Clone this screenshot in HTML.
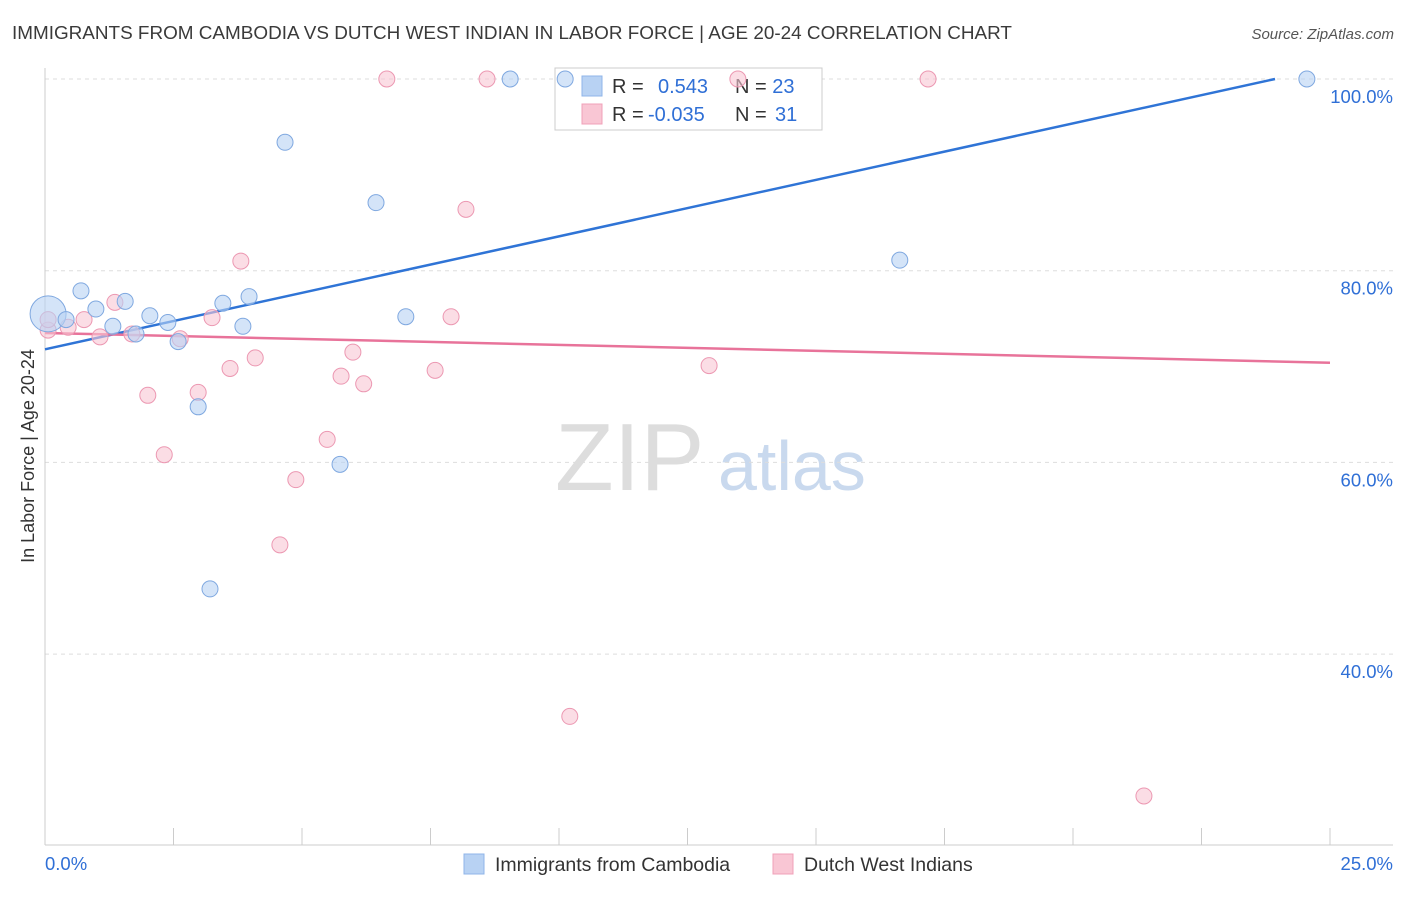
<!DOCTYPE html>
<html><head><meta charset="utf-8"><style>
body{margin:0;background:#fff;font-family:"Liberation Sans",sans-serif;}
svg text{font-family:"Liberation Sans",sans-serif;}
</style></head><body>
<svg id="chart" width="1406" height="892">
<text x="12" y="39" font-size="18.9" fill="#3a3a3a">IMMIGRANTS FROM CAMBODIA VS DUTCH WEST INDIAN IN LABOR FORCE | AGE 20-24 CORRELATION CHART</text>
<text x="1394" y="39" font-size="15" fill="#555" font-style="italic" text-anchor="end">Source: ZipAtlas.com</text>
<text x="555" y="490" font-size="96" fill="#ddd" font-family="Liberation Serif">ZIP</text>
<text x="718" y="490" font-size="70" fill="#c9d9ee">atlas</text>
<g id="grid"></g>
<g id="axes"></g>
<g>
<rect x="555" y="68" width="267" height="62" fill="#fff" stroke="#ccc"/>
<rect x="582" y="76" width="20" height="20" fill="#b8d2f3" stroke="#8fb4e8"/>
<rect x="582" y="104" width="20" height="20" fill="#f9c6d4" stroke="#f0a0b8"/>
<text x="612" y="93" font-size="20" fill="#333">R = <tspan fill="#2f6fd6" x="658">0.543</tspan><tspan x="735" fill="#333">N = </tspan><tspan fill="#2f6fd6">23</tspan></text>
<text x="612" y="121" font-size="20" fill="#333">R = <tspan fill="#2f6fd6" x="648">-0.035</tspan><tspan x="735" fill="#333">N = </tspan><tspan fill="#2f6fd6" x="775">31</tspan></text>
</g>
<g id="lines"></g>
<g id="points"></g>
<text transform="translate(34,456) rotate(-90)" font-size="18" fill="#333" text-anchor="middle">In Labor Force | Age 20-24</text>
<g>
<rect x="464" y="854" width="20" height="20" fill="#b8d2f3" stroke="#8fb4e8"/>
<text x="495" y="871" font-size="19.5" fill="#333">Immigrants from Cambodia</text>
<rect x="773" y="854" width="20" height="20" fill="#f9c6d4" stroke="#f0a0b8"/>
<text x="804" y="871" font-size="19.5" fill="#333">Dutch West Indians</text>
</g>
</svg>
<script>
const blueX=[0.06,0.41,0.70,0.99,1.32,1.56,1.77,2.04,2.39,2.59,2.98,3.21,3.46,3.85,3.97,4.67,5.74,6.44,7.02,9.05,10.12,16.63,24.55];
const blueY=[75.5,74.9,77.9,76.0,74.2,76.8,73.4,75.3,74.6,72.6,65.8,46.8,76.6,74.2,77.3,93.4,59.8,87.1,75.2,100,100,81.1,100];
const pinkX=[0.06,0.06,0.45,0.76,1.07,1.36,1.69,2.0,2.32,2.63,2.98,3.25,3.6,3.81,4.09,4.57,4.88,5.49,5.76,5.99,6.2,6.65,7.59,7.9,8.19,8.6,10.21,12.92,13.48,17.18,21.38];
const pinkY=[73.8,74.9,74.1,74.9,73.1,76.7,73.4,67.0,60.8,72.9,67.3,75.1,69.8,81.0,70.9,51.4,58.2,62.4,69.0,71.5,68.2,100,69.6,75.2,86.4,100,33.5,70.1,100,100,25.2];
const blueTrend=[71.8,1.1785];
const pinkTrend=[73.5,-0.124];
const yTicks=[40,60,80,100];
const NS='http://www.w3.org/2000/svg';
const xs=v=>45+v/25*1285;
const ys=v=>79+(100-v)*9.585;
function mk(t,a,p){const e=document.createElementNS(NS,t);for(const k in a)e.setAttribute(k,a[k]);p.appendChild(e);return e;}
const grid=document.getElementById('grid'),axes=document.getElementById('axes');
yTicks.forEach(t=>{
 const l=mk('line',{x1:45,x2:1393,y1:ys(t),y2:ys(t),stroke:'#ddd','stroke-dasharray':'4,4'},grid);
 
 
 const tx=mk('text',{x:1393,y:ys(t)+24,'font-size':18.5,fill:'#2f6fd6','text-anchor':'end'},axes);
 tx.textContent=t.toFixed(1)+'%';
 
 
});
const ax=mk('line',{x1:45,x2:45,y1:68,y2:845,stroke:'#ccc'},axes);


const bx=mk('line',{x1:45,x2:1393,y1:845,y2:845,stroke:'#ccc'},axes);


for(let i=0;i<=10;i++){const t=mk('line',{x1:xs(i*2.5),x2:xs(i*2.5),y1:828,y2:845,stroke:'#ccc'},axes);
 
 }
[[0,'0.0%','start',45],[25,'25.0%','end',1393]].forEach(d=>{const t=mk('text',{x:d[3],y:870,'font-size':18.5,fill:'#2f6fd6','text-anchor':d[2]},axes);t.textContent=d[1];
 
 });
const L=document.getElementById('lines');
const bl=mk('line',{x1:xs(0),y1:ys(blueTrend[0]),x2:xs(23.93),y2:ys(blueTrend[0]+blueTrend[1]*23.93),stroke:'#2f74d6','stroke-width':2.5},L);


const pl=mk('line',{x1:xs(0),y1:ys(pinkTrend[0]),x2:xs(25),y2:ys(pinkTrend[0]+pinkTrend[1]*25),stroke:'#e8739a','stroke-width':2.5},L);


const P=document.getElementById('points');
function pts(X,Y,fill,stroke,name){X.forEach((x,i)=>{const c=mk('circle',{cx:xs(x),cy:ys(Y[i]),r:(i===0&&name==='cambodia-point')?18:8,fill:fill,stroke:stroke,'stroke-width':1,'fill-opacity':0.6},P);
 
 });}
pts(pinkX,pinkY,'#f9c6d4','#ec98b2','dutch-west-indian-point');
pts(blueX,blueY,'#b8d2f3','#7fa8e0','cambodia-point');
</script>
</body></html>
